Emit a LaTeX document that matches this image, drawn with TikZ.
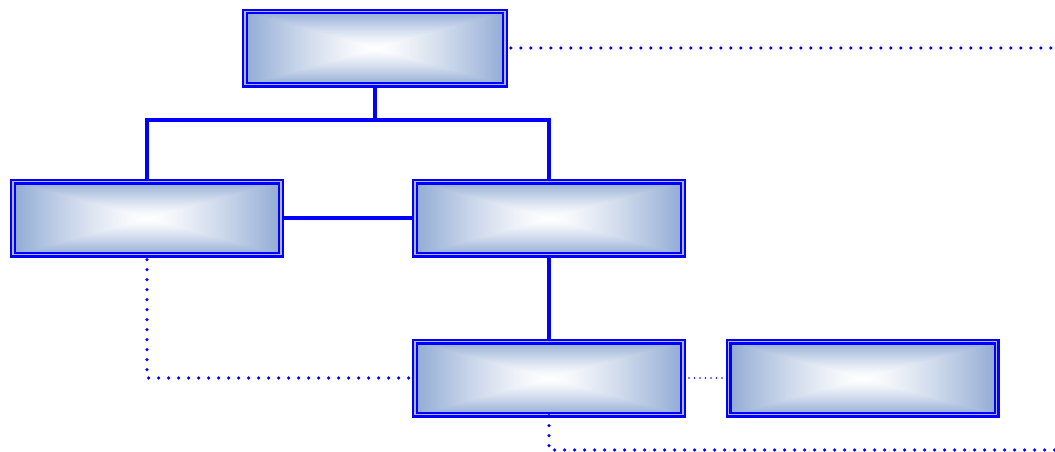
\documentclass[tikz,border=0pt]{standalone}
\usepackage{tikz}

\pgfdeclarefunctionalshading{boxglow}{\pgfpoint{-50bp}{-50bp}}{\pgfpoint{50bp}{50bp}}{}{
abs exch abs 2 copy lt {exch} if pop 25 div
dup 1 gt {pop 1} if 1.3 exp
dup 0.43 mul 1 exch sub exch
dup 0.33 mul 1 exch sub exch
0.17 mul 1 exch sub
}

\begin{document}
\begin{tikzpicture}[
  box/.style={shading=boxglow, draw=blue, line width=0.055cm, double=blue!30,
    double distance=0.04cm, minimum width=6.7cm, minimum height=1.825cm, inner sep=0pt},
  link/.style={blue, line width=0.085cm},
  dots/.style={blue, line width=0.09cm, line cap=round, dash pattern=on 0pt off 0.25cm},
  fine/.style={blue, line width=0.045cm, line cap=round, dash pattern=on 0pt off 0.1375cm}]
\useasboundingbox (0,0) rectangle (26.375,11.275);
\node[box, minimum width=6.5cm] (head) at (9.375,10.075) {};
\node[box] (lbox) at (3.675,5.825) {};
\node[box] (rbox) at (13.725,5.825) {};
\node[box] (sub) at (13.725,1.825) {};
\node[box] (peer) at (21.5625,1.825) {};
\coordinate (bus) at (9.375,8.275);
\coordinate (farhead) at (26.375,10.075);
\coordinate (farsub) at (26.375,0.025);
% solid links
\draw[link] (head.south) -- (bus);
\draw[link] (lbox.north) |- (bus) -| (rbox.north);
\draw[link] (lbox.east) -- (rbox.west);
\draw[link] (rbox.south) -- (sub.north);
% dotted links
\draw[dots, shorten <=0.12cm] (head.east) -- (farhead);
\draw[dots, shorten <=0.1cm] (lbox.south) |- (sub.west);
\draw[fine, shorten <=0.12cm, shorten >=0.1cm] (sub.east) -- (peer.west);
\draw[dots] (sub.south) |- (farsub);
\end{tikzpicture}
\end{document}
